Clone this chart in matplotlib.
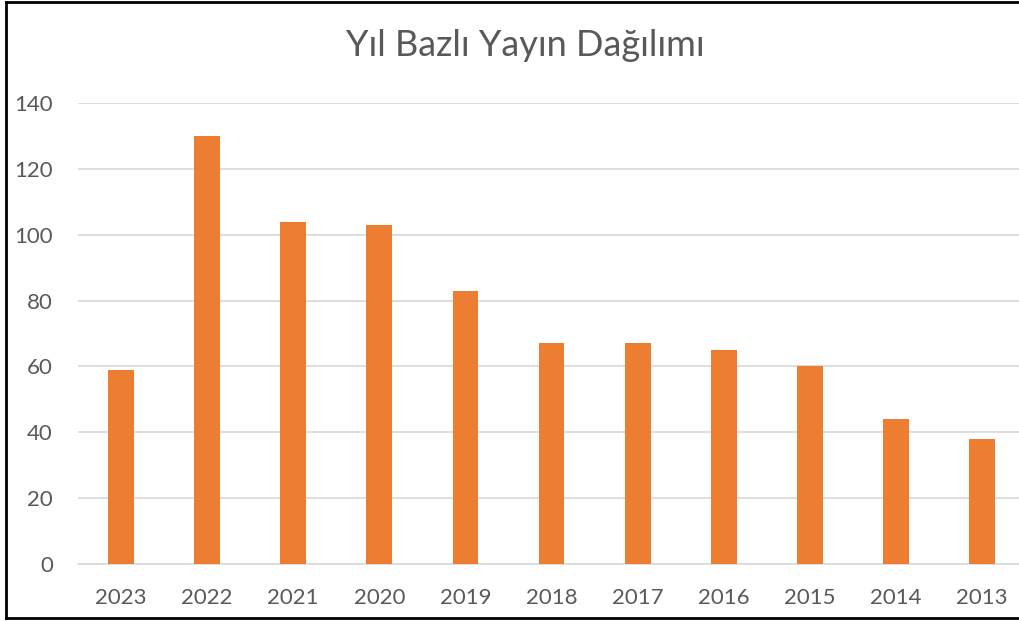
import matplotlib
matplotlib.use("Agg")
from matplotlib import pyplot as plt
from matplotlib.lines import Line2D

# veriler
years = ["2023", "2022", "2021", "2020", "2019", "2018", "2017", "2016", "2015", "2014", "2013"]
counts = [59, 130, 104, 103, 83, 67, 67, 65, 60, 44, 38]
yticks = [0, 20, 40, 60, 80, 100, 120, 140]

plt.rcParams['font.family'] = ['Lato', 'DejaVu Sans']

W, H = 1020, 621
fig = plt.figure(figsize=(W / 100, H / 100), dpi=100)
# çizim alanı: x 78..1020 px, y 103..564 px
ax = fig.add_axes([78 / W, 1 - 564 / H, (1020 - 78) / W, (564 - 103) / H])

x = list(range(len(years)))
ax.bar(x, counts, width=0.30, color="#ED7D31", zorder=3)

ax.set_xlim(-0.5, -0.5 + 942 / 86.1)
ax.set_ylim(0, 140)
ax.set_yticks(yticks)
ax.set_xticks(x)
ax.set_xticklabels(years)
ax.grid(axis="y", color="#D9D9D9", linewidth=1.2, zorder=0)
ax.tick_params(axis="both", length=0, labelsize=16, colors="#595959")
ax.tick_params(axis="x", pad=17)
ax.tick_params(axis="y", pad=18)
for s in ["top", "right", "left"]:
    ax.spines[s].set_visible(False)
ax.spines["bottom"].set_color("#D9D9D9")
ax.spines["bottom"].set_linewidth(1.2)

fig.text(525.5 / W, 1 - 45 / H, "Yıl Bazlı Yayın Dağılımı", ha="center", va="center",
         fontsize=26, color="#595959")

# dış çerçeve (sağ kenar yok)
bx0, bx1 = 6 / W, 1.0
by0, by1 = 1 - 618 / H, 1 - 2 / H
for xs, ys in [([bx0, bx1], [by1, by1]), ([bx0, bx0], [by0, by1]), ([bx0, bx1], [by0, by0])]:
    fig.add_artist(Line2D(xs, ys, transform=fig.transFigure, color="black", linewidth=2))

fig.savefig("out.png", dpi=100)
